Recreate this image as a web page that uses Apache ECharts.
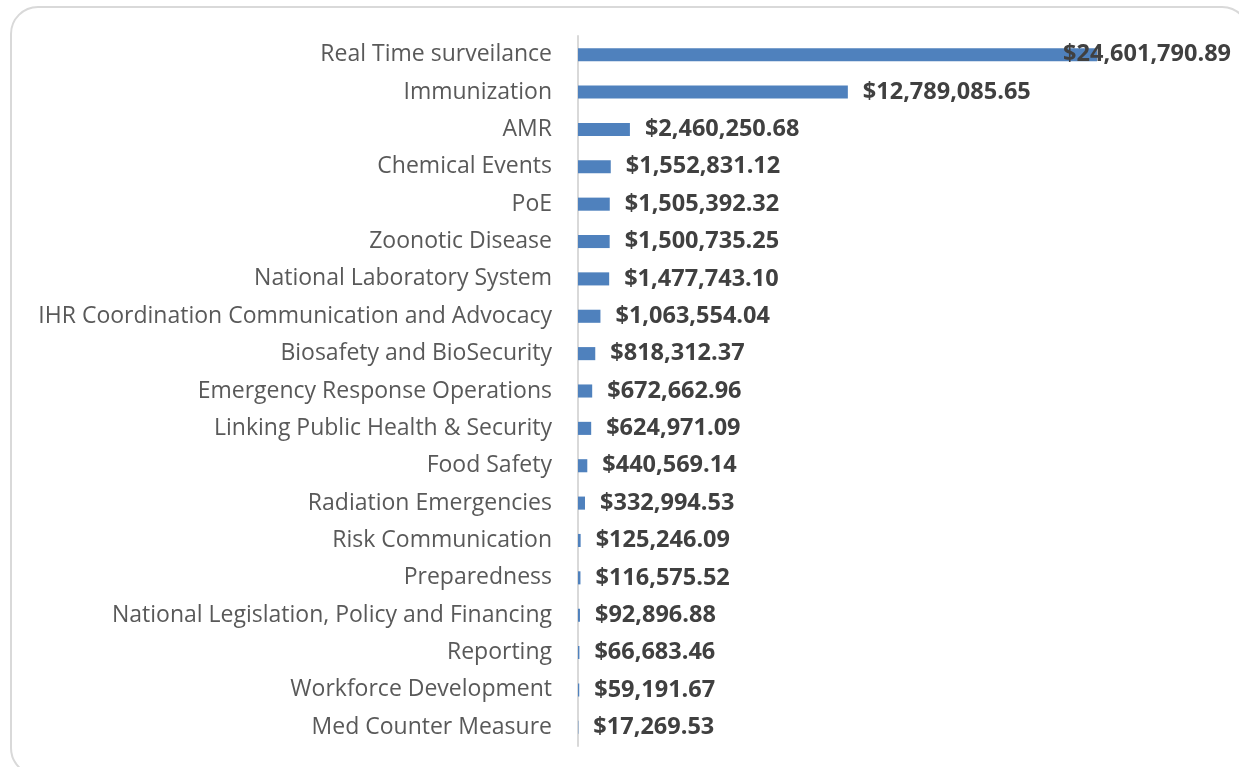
<!DOCTYPE html>
<html>
<head>
<meta charset="utf-8">
<script src="https://cdn.jsdelivr.net/npm/echarts@6/dist/echarts.min.js"></script>
<style>
  html, body { margin: 0; padding: 0; background: #fff; }
  .frame {
    position: absolute; left: 10px; top: 6px; width: 1240px; height: 770px;
    border: 2px solid #d9d9d9; border-radius: 28px; box-sizing: border-box;
  }
  #chart { position: absolute; left: 0; top: 0; width: 1239px; height: 767px; }
</style>
</head>
<body>
<div class="frame"></div>
<div id="chart"></div>
<script>
// 分类名称
var categories = [
  "Real Time surveilance", "Immunization", "AMR", "Chemical Events", "PoE",
  "Zoonotic Disease", "National Laboratory System",
  "IHR Coordination Communication and Advocacy", "Biosafety and BioSecurity",
  "Emergency Response Operations", "Linking Public Health & Security",
  "Food Safety", "Radiation Emergencies", "Risk Communication", "Preparedness",
  "National Legislation, Policy and Financing", "Reporting",
  "Workforce Development", "Med Counter Measure"
];
// 金额
var values = [
  24601790.89, 12789085.65, 2460250.68, 1552831.12, 1505392.32,
  1500735.25, 1477743.10, 1063554.04, 818312.37, 672662.96,
  624971.09, 440569.14, 332994.53, 125246.09, 116575.52,
  92896.88, 66683.46, 59191.67, 17269.53
];

function money(v) {
  return "$" + v.toLocaleString("en-US", { minimumFractionDigits: 2, maximumFractionDigits: 2 });
}

var myChart = echarts.init(document.getElementById("chart"));
var data = values.map(function (v, i) {
  var item = { value: v };
  if (i === 0) {
    // 最长的条，标签压在条尾
    item.label = { offset: [-49, 0] };
  }
  return item;
});

var option = {
  animation: false,
  grid: { left: 578, right: 28, top: 36, bottom: 21 },
  xAxis: {
    type: "value",
    min: 0,
    max: 30000000,
    show: false
  },
  yAxis: {
    type: "category",
    inverse: true,
    data: categories,
    axisTick: { show: false },
    axisLine: { show: true, lineStyle: { color: "#d9d9d9", width: 2 } },
    axisLabel: {
      margin: 26,
      color: "#595959",
      fontSize: 23,
      fontFamily: "Open Sans"
    }
  },
  series: [
    {
      type: "bar",
      data: data,
      barCategoryGap: "65%",
      itemStyle: { color: "#4f81bd" },
      label: {
        show: true,
        position: "right",
        distance: 15,
        color: "#404040",
        fontWeight: "bold",
        fontSize: 23.5,
        fontFamily: "Open Sans",
        formatter: function (p) { return money(p.value); }
      }
    }
  ]
};
myChart.setOption(option);
</script>
</body>
</html>
